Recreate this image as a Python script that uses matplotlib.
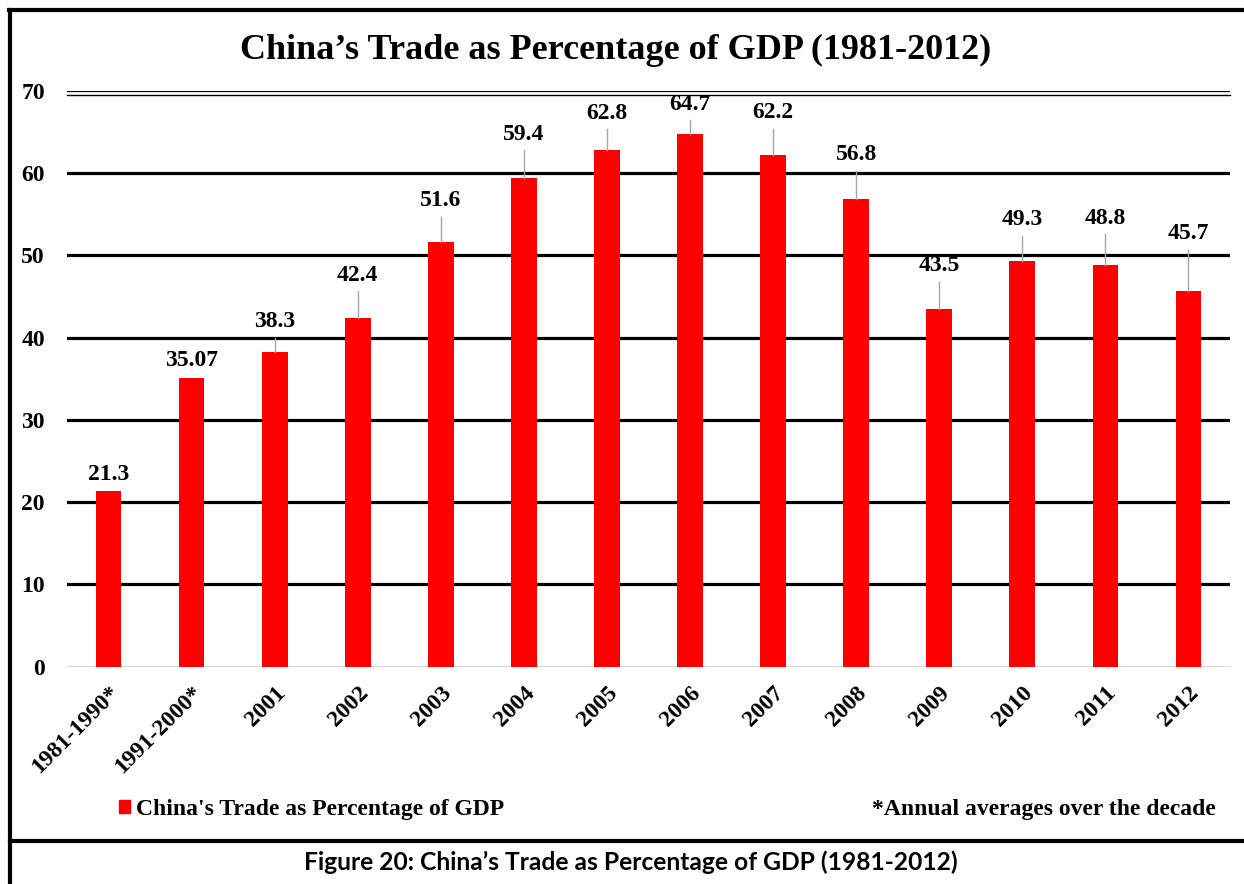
import numpy as np
import matplotlib.pyplot as plt
import matplotlib.transforms as mtransforms
from matplotlib.lines import Line2D
from matplotlib.patches import Patch

PERIODS = ['1981-1990*', '1991-2000*', '2001', '2002', '2003', '2004', '2005',
           '2006', '2007', '2008', '2009', '2010', '2011', '2012']
TRADE_PCT = [21.3, 35.07, 38.3, 42.4, 51.6, 59.4, 62.8,
             64.7, 62.2, 56.8, 43.5, 49.3, 48.8, 45.7]
LABELS = ['21.3', '35.07', '38.3', '42.4', '51.6', '59.4', '62.8',
          '64.7', '62.2', '56.8', '43.5', '49.3', '48.8', '45.7']
# how far each data label was dragged above its bar (in y units)
LABEL_LIFT = [2.1, 2.2, 3.6, 5.1, 5.0, 5.3, 4.4, 3.6, 5.1, 5.4, 5.2, 5.0, 5.7, 6.9]

SERIF = 'Liberation Serif'
W, H = 1244, 884

fig = plt.figure(figsize=(W / 100, H / 100), dpi=100)
ax = fig.add_axes([67 / W, 1 - 666.7 / H, (1230 - 67) / W, (666.7 - 90.7) / H])

x = np.arange(len(PERIODS))
ax.bar(x, TRADE_PCT, width=0.31, color='#ff0000', zorder=3)

ax.set_xlim(-0.5, len(PERIODS) - 0.5)
ax.set_ylim(0, 70)
ax.set_yticks(range(0, 80, 10))
for y in range(10, 70, 10):
    ax.axhline(y, color='black', lw=2.3, zorder=1)
# double rule on top
ax.axhline(70, color='black', lw=1.6, zorder=1)
shifted = mtransforms.offset_copy(ax.get_yaxis_transform(), fig=fig, y=-4, units='dots')
ax.add_line(Line2D([0, 1], [70, 70], transform=shifted, color='black', lw=1.0, clip_on=False))
ax.axhline(0, color='#d9d9d9', lw=1.5, zorder=2)

for s in ax.spines.values():
    s.set_visible(False)
ax.tick_params(length=0)
ax.tick_params(axis='y', pad=16)
ax.tick_params(axis='x', pad=11)
ax.set_yticklabels([str(v) for v in range(0, 80, 10)], fontfamily=SERIF,
                   fontweight='bold', fontsize=17)
ax.set_xticks(x)
ax.set_xticklabels(PERIODS, rotation=45, ha='right', rotation_mode='anchor',
                   fontfamily=SERIF, fontweight='bold', fontsize=17)

for xi, v, lab, lift in zip(x, TRADE_PCT, LABELS, LABEL_LIFT):
    ly = v + lift
    ax.text(xi, ly, lab, ha='center', va='center', fontfamily=SERIF,
            fontweight='bold', fontsize=17, zorder=5)
    if ly - 1.9 > v + 1.0:
        ax.plot([xi, xi], [v, ly - 1.9], color='#a6a6a6', lw=1, zorder=4)

fig.text(616 / W, 1 - 50 / H, 'China’s Trade as Percentage of GDP (1981-2012)',
         ha='center', va='center', fontfamily=SERIF, fontweight='bold', fontsize=26)

fig.legend(handles=[Patch(color='#ff0000', label="China's Trade as Percentage of GDP")],
           loc='center left', bbox_to_anchor=(119 / W, 1 - 809 / H), frameon=False,
           borderpad=0, borderaxespad=0,
           handlelength=0.47, handleheight=0.47, handletextpad=0.25,
           prop={'family': SERIF, 'weight': 'bold', 'size': 17})
fig.text(1216 / W, 1 - 809 / H, '*Annual averages over the decade', ha='right',
         va='center', fontfamily=SERIF, fontweight='bold', fontsize=17)

# outer frame and caption rule
fig.add_artist(Line2D([10 / W, 10 / W], [0, 1 - 10 / H], color='black', lw=3))
fig.add_artist(Line2D([8.5 / W, 1], [1 - 10 / H, 1 - 10 / H], color='black', lw=3))
fig.add_artist(Line2D([10 / W, 1], [1 - 841 / H, 1 - 841 / H], color='black', lw=3))

fig.text(631 / W, 1 - 862 / H, 'Figure 20: China’s Trade as Percentage of GDP (1981-2012)',
         ha='center', va='center', fontfamily='Lato', fontweight='bold', fontsize=17.7)

fig.savefig('out.png', dpi=100)
